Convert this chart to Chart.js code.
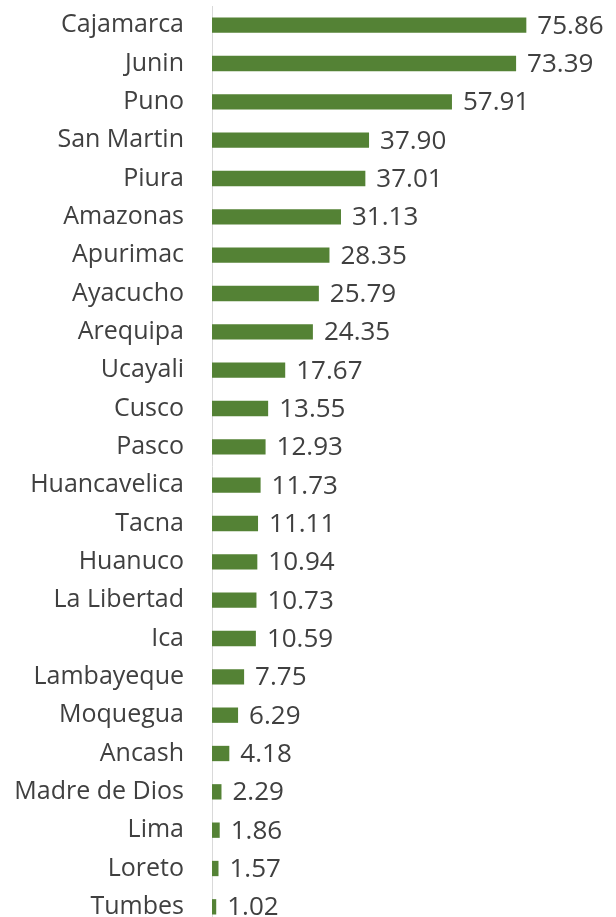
<!DOCTYPE html>
<html>
<head>
<meta charset="utf-8">
<script src="https://cdn.jsdelivr.net/npm/chart.js@4"></script>
<style>
  html, body { margin: 0; padding: 0; background: #fff; overflow: hidden; }
  #wrap { position: relative; width: 616px; height: 930px; }
</style>
</head>
<body>
<div id="wrap"><canvas id="chart"></canvas></div>
<script>
// Regioner og verdier, lest av bildet
const regions = ['Cajamarca', 'Junin', 'Puno', 'San Martin', 'Piura', 'Amazonas', 'Apurimac',
  'Ayacucho', 'Arequipa', 'Ucayali', 'Cusco', 'Pasco', 'Huancavelica', 'Tacna', 'Huanuco',
  'La Libertad', 'Ica', 'Lambayeque', 'Moquegua', 'Ancash', 'Madre de Dios', 'Lima', 'Loreto', 'Tumbes'];
const values = [75.86, 73.39, 57.91, 37.90, 37.01, 31.13, 28.35, 25.79, 24.35, 17.67, 13.55, 12.93,
  11.73, 11.11, 10.94, 10.73, 10.59, 7.75, 6.29, 4.18, 2.29, 1.86, 1.57, 1.02];

const textColor = '#404040';
const fontFamily = '"Open Sans", "Noto Sans", sans-serif';

// Tegn verdien til høyre for hver søyle
const valueLabels = {
  id: 'valueLabels',
  afterDatasetsDraw(chart) {
    const ctx = chart.ctx;
    const meta = chart.getDatasetMeta(0);
    ctx.save();
    ctx.fillStyle = textColor;
    ctx.font = '26px ' + fontFamily;
    ctx.textBaseline = 'middle';
    ctx.textAlign = 'left';
    meta.data.forEach((bar, i) => {
      ctx.fillText(values[i].toFixed(2), bar.x + 11, bar.y + 1);
    });
    ctx.restore();
  }
};

new Chart(document.getElementById('chart'), {
  type: 'bar',
  data: {
    labels: regions,
    datasets: [{
      data: values,
      backgroundColor: '#548235',
      barPercentage: 0.4,
      categoryPercentage: 1
    }]
  },
  options: {
    indexAxis: 'y',
    responsive: true,
    maintainAspectRatio: false,
    animation: false,
    layout: { padding: { top: 6, bottom: 4, left: 0, right: 0 } },
    plugins: { legend: { display: false }, tooltip: { enabled: false } },
    scales: {
      x: { display: false, min: 0, max: 97.5 },
      y: {
        grid: { display: false },
        border: { display: true, color: '#d9d9d9', width: 1 },
        ticks: { color: textColor, font: { family: fontFamily, size: 25 }, padding: 20 },
        afterFit(scale) {
          scale.width = 212;
          scale.paddingTop = 0;
          scale.paddingBottom = 0;
        }
      }
    }
  },
  plugins: [valueLabels]
});
</script>
</body>
</html>
